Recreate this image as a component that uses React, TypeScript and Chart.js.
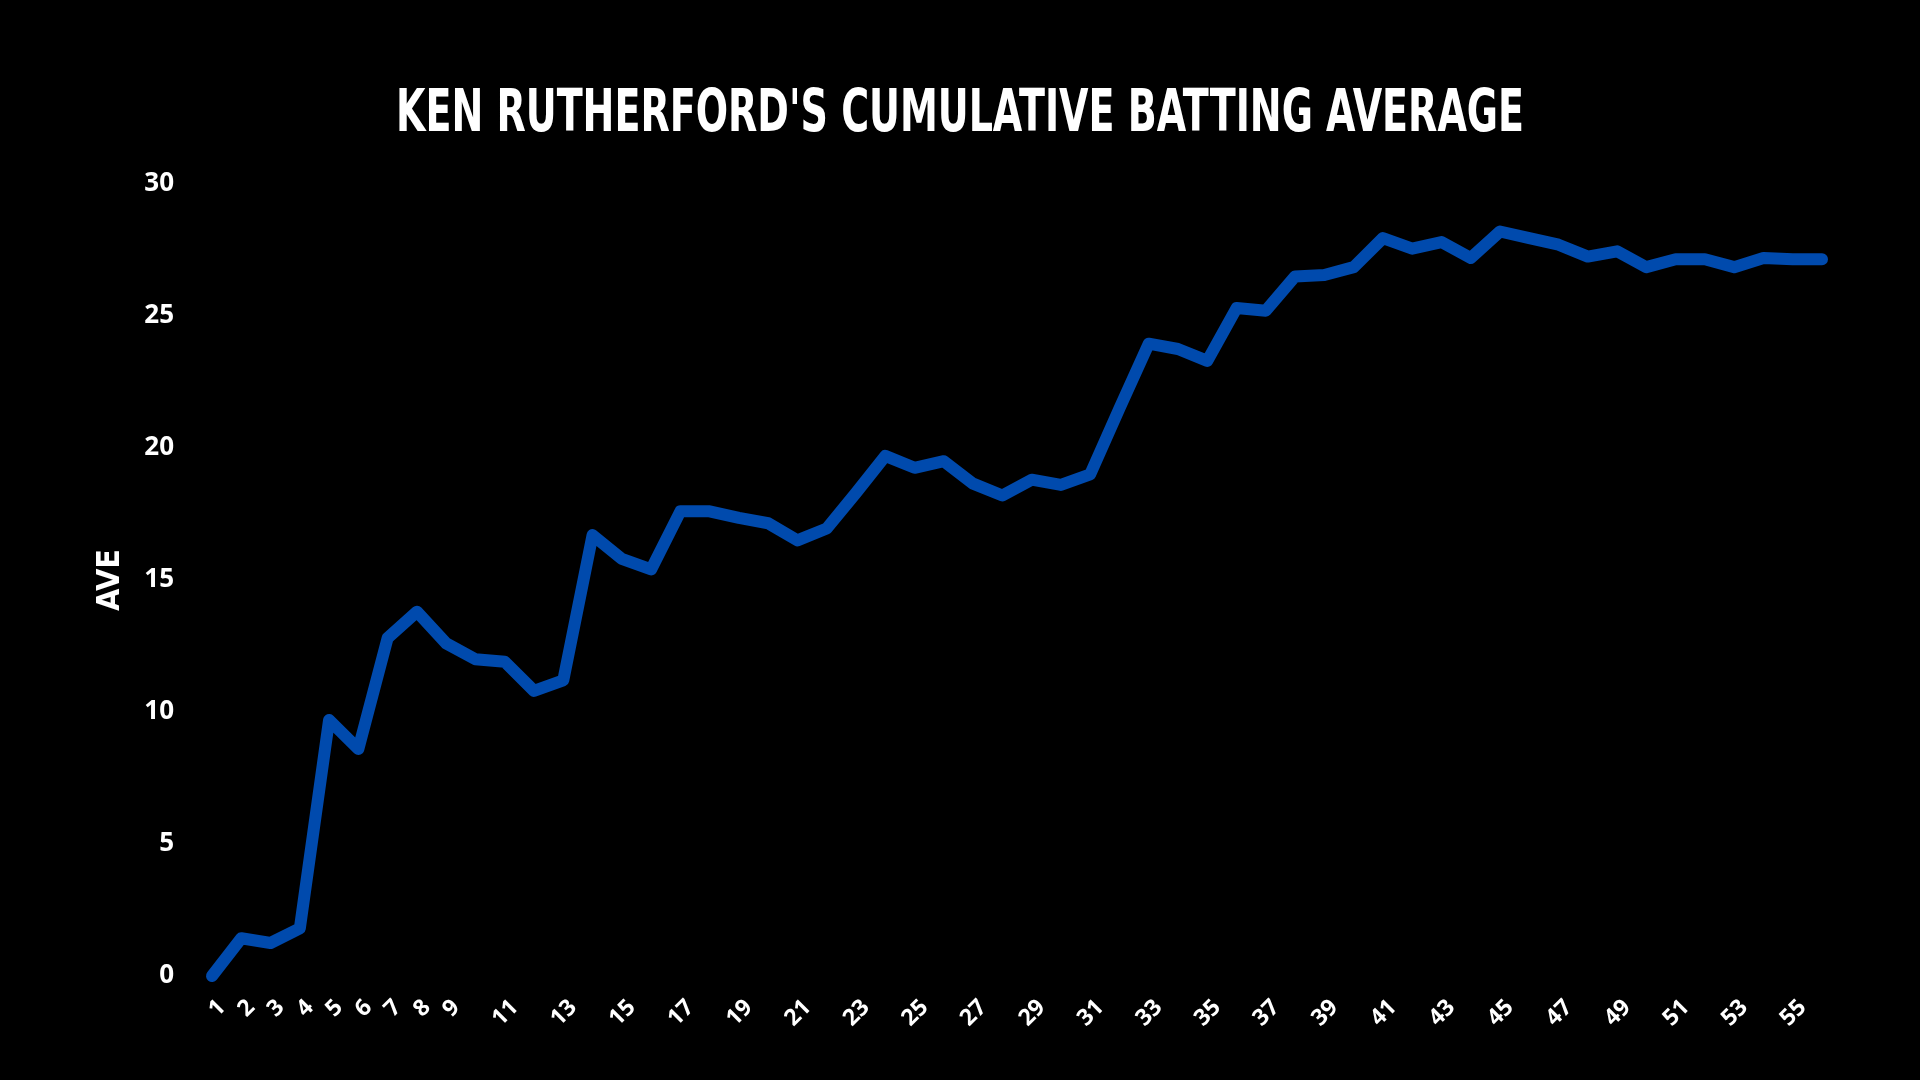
import React, { useEffect, useRef } from "react";
import { Chart, registerables } from "chart.js";

Chart.register(...registerables);

const TITLE = "KEN RUTHERFORD'S CUMULATIVE BATTING AVERAGE";
const Y_TITLE = "AVE";

const innings: string[] = [
  "1", "2", "3", "4", "5", "6", "7", "8", "9", "10",
  "11", "12", "13", "14", "15", "16", "17", "18", "19", "20",
  "21", "22", "23", "24", "25", "26", "27", "28", "29", "30",
  "31", "32", "33", "34", "35", "36", "37", "38", "39", "40",
  "41", "42", "43", "44", "45", "46", "47", "48", "49", "50",
  "51", "52", "53", "54", "55", "56",
];

const average: number[] = [
  0, 1.43, 1.25, 1.8, 9.7, 8.6, 12.8, 13.8, 12.6, 12.0,
  11.9, 10.8, 11.2, 16.7, 15.8, 15.4, 17.6, 17.6, 17.35, 17.15,
  16.5, 16.95, 18.3, 19.7, 19.25, 19.5, 18.65, 18.2, 18.8, 18.6,
  19.0, 21.5, 23.95, 23.75, 23.3, 25.3, 25.2, 26.5, 26.55, 26.85,
  27.95, 27.55, 27.8, 27.2, 28.2, 27.95, 27.7, 27.25, 27.45, 26.85,
  27.15, 27.15, 26.85, 27.2, 27.15, 27.15,
];

const shownXTicks: string[] = [
  "1", "2", "3", "4", "5", "6", "7", "8", "9",
  "11", "13", "15", "17", "19", "21", "23", "25", "27", "29",
  "31", "33", "35", "37", "39", "41", "43", "45", "47", "49",
  "51", "53", "55",
];

const yTicks: number[] = [0, 5, 10, 15, 20, 25, 30];

const CONDENSED = '"Liberation Sans Narrow", "DejaVu Sans Condensed", "DejaVu Sans", sans-serif';

// Condensed headline title (squeezed to the reference width)
const headlinePlugin = {
  id: "headline",
  afterDraw(chart: any) {
    const ctx = chart.ctx as CanvasRenderingContext2D;
    ctx.save();
    ctx.font = `bold 59px ${CONDENSED}`;
    ctx.fillStyle = "#ffffff";
    ctx.textAlign = "center";
    ctx.textBaseline = "alphabetic";
    ctx.fillText(TITLE, chart.width / 2, 131, 1128);
    ctx.restore();
  },
};

export default function App() {
  const canvasRef = useRef<HTMLCanvasElement | null>(null);

  useEffect(() => {
    const canvas = canvasRef.current;
    if (!canvas) return;
    const chart = new Chart(canvas, {
      type: "line",
      data: {
        labels: innings,
        datasets: [
          {
            label: "AVE",
            data: average,
            borderColor: "#004AAD",
            backgroundColor: "#004AAD",
            borderWidth: 12,
            pointRadius: 0,
            pointHoverRadius: 0,
            tension: 0,
            borderCapStyle: "round",
            borderJoinStyle: "round",
            fill: false,
            clip: false,
          },
        ],
      },
      plugins: [headlinePlugin],
      options: {
        responsive: false,
        animation: false,
        layout: { padding: { left: 0, right: 98, top: 184, bottom: 0 } },
        plugins: {
          legend: { display: false },
          tooltip: { enabled: false },
          title: { display: false, text: TITLE },
        },
        scales: {
          x: {
            type: "category",
            offset: false,
            grid: { display: false, drawTicks: false },
            border: { display: false },
            afterFit: (scale: any) => {
              scale.height = 104;
            },
            ticks: {
              autoSkip: false,
              minRotation: 45,
              maxRotation: 45,
              padding: 18,
              labelOffset: 10,
              color: "#ffffff",
              font: { family: '"Open Sans", sans-serif', size: 23, weight: "bold" },
              callback: function (this: any, value: any) {
                const lbl = this.getLabelForValue(value);
                return shownXTicks.includes(lbl) ? lbl : "";
              },
            },
          },
          y: {
            min: yTicks[0],
            max: yTicks[yTicks.length - 1],
            grid: { display: false, drawTicks: false },
            border: { display: false },
            afterFit: (scale: any) => {
              scale.width = 212;
            },
            ticks: {
              stepSize: 5,
              padding: 38,
              color: "#ffffff",
              font: { family: '"Open Sans", sans-serif', size: 26, weight: "bold" },
            },
            title: {
              display: true,
              text: Y_TITLE,
              color: "#ffffff",
              font: {
                family: CONDENSED,
                size: 32,
                weight: "bold",
                lineHeight: 1.2,
              },
              padding: { top: 91, bottom: 0 },
            },
          },
        },
      },
    });
    return () => chart.destroy();
  }, []);

  return (
    <div
      style={{
        position: "fixed",
        left: 0,
        top: 0,
        width: 1920,
        height: 1080,
        background: "#000000",
      }}
    >
      <canvas
        ref={canvasRef}
        width={1920}
        height={1080}
        style={{ display: "block", width: 1920, height: 1080, background: "#000000" }}
      />
    </div>
  );
}
